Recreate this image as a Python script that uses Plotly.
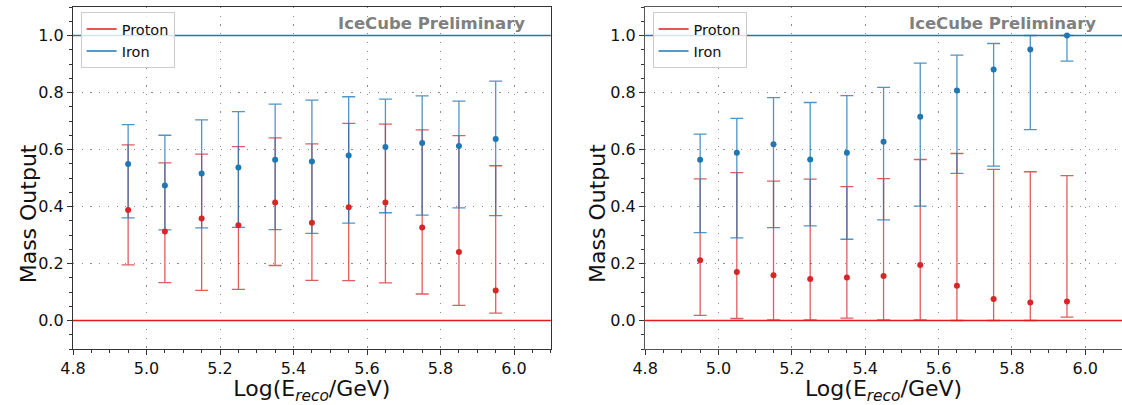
import plotly.graph_objects as go

# ---------------- data ----------------
x_bins = [4.95, 5.05, 5.15, 5.25, 5.35, 5.45, 5.55, 5.65, 5.75, 5.85, 5.95]

left_iron_mean = [0.549, 0.474, 0.516, 0.537, 0.564, 0.558, 0.579, 0.609, 0.623, 0.612, 0.637]
left_iron_hi = [0.687, 0.650, 0.704, 0.733, 0.759, 0.773, 0.785, 0.777, 0.788, 0.770, 0.840]
left_iron_lo = [0.360, 0.318, 0.325, 0.327, 0.319, 0.306, 0.342, 0.378, 0.370, 0.395, 0.368]

left_proton_mean = [0.388, 0.312, 0.358, 0.334, 0.414, 0.343, 0.397, 0.414, 0.326, 0.240, 0.105]
left_proton_hi = [0.616, 0.553, 0.584, 0.610, 0.641, 0.620, 0.692, 0.689, 0.669, 0.649, 0.543]
left_proton_lo = [0.195, 0.133, 0.106, 0.109, 0.193, 0.141, 0.140, 0.132, 0.093, 0.053, 0.026]

right_iron_mean = [0.564, 0.589, 0.618, 0.565, 0.589, 0.627, 0.715, 0.807, 0.881, 0.951, 1.000]
right_iron_hi = [0.654, 0.709, 0.782, 0.765, 0.789, 0.818, 0.903, 0.931, 0.972, 1.000, 1.000]
right_iron_lo = [0.308, 0.290, 0.326, 0.332, 0.285, 0.353, 0.401, 0.516, 0.542, 0.670, 0.910]

right_proton_mean = [0.211, 0.170, 0.159, 0.146, 0.151, 0.156, 0.195, 0.122, 0.075, 0.063, 0.067]
right_proton_hi = [0.497, 0.519, 0.489, 0.496, 0.470, 0.498, 0.565, 0.586, 0.530, 0.522, 0.508]
right_proton_lo = [0.018, 0.007, 0.002, 0.002, 0.008, 0.002, 0.002, 0.000, 0.000, 0.000, 0.012]

ref_levels = [0.0, 1.0]          # proton / iron reference lines
series_names = ["Proton", "Iron"]
x_ticks = [4.8, 5.0, 5.2, 5.4, 5.6, 5.8, 6.0]
y_ticks = [0.0, 0.2, 0.4, 0.6, 0.8, 1.0]
watermark = "IceCube Preliminary"
x_title = "Log(E<sub><i>reco</i></sub>/GeV)"
y_title = "Mass Output"

# ---------------- style ----------------
RED = "#d62728"
BLUE = "#1f77b4"
RED_LINE = "#e31a1c"
RED_ERR = "rgba(214,39,40,0.75)"
BLUE_ERR = "rgba(31,119,180,0.78)"
FONT = "DejaVu Sans"

fig = go.Figure()

panels = [
    ("x", "y", "legend", left_proton_mean, left_proton_hi, left_proton_lo,
     left_iron_mean, left_iron_hi, left_iron_lo),
    ("x2", "y2", "legend2", right_proton_mean, right_proton_hi, right_proton_lo,
     right_iron_mean, right_iron_hi, right_iron_lo),
]

for xa, ya, leg, pm, ph, pl, im, ih, il in panels:
    for mean, hi, lo, col in [(pm, ph, pl, RED_ERR), (im, ih, il, BLUE_ERR)]:
        fig.add_trace(go.Scatter(
            x=x_bins, y=mean, mode="markers", xaxis=xa, yaxis=ya,
            marker=dict(size=1, color="rgba(0,0,0,0)"), showlegend=False,
            hoverinfo="skip",
            error_y=dict(type="data", symmetric=False,
                         array=[h - m for h, m in zip(hi, mean)],
                         arrayminus=[m - l for m, l in zip(mean, lo)],
                         color=col, thickness=1.3, width=6.5),
        ))
    for mean, col in [(pm, RED), (im, BLUE)]:
        fig.add_trace(go.Scatter(
            x=x_bins, y=mean, mode="markers", xaxis=xa, yaxis=ya,
            marker=dict(size=6, color=col), showlegend=False,
        ))
    for name, col in zip(series_names, [RED_LINE, BLUE]):
        fig.add_trace(go.Scatter(
            x=[None], y=[None], mode="lines", xaxis=xa, yaxis=ya,
            line=dict(color=col, width=1.5), name=name, legend=leg,
            showlegend=True,
        ))

shapes = []
for xa, ya in [("x", "y"), ("x2", "y2")]:
    for lvl, col in zip(ref_levels, [RED_LINE, BLUE]):
        shapes.append(dict(type="line", xref=f"{xa} domain", yref=ya,
                           x0=0, x1=1, y0=lvl, y1=lvl,
                           line=dict(color=col, width=1.5), layer="above"))

annotations = []
for xa, ya in [("x", "y"), ("x2", "y2")]:
    annotations.append(dict(text=f"<b>{watermark}</b>", xref=xa, yref=ya,
                            x=6.035, y=1.0415, xanchor="right", yanchor="middle",
                            showarrow=False,
                            font=dict(family=FONT, size=16.5, color="#808080")))
for px in [-0.0425, 0.5005]:
    annotations.append(dict(text=y_title, xref="paper", yref="paper",
                            x=px, y=0.395, xanchor="center", yanchor="middle",
                            textangle=-90, showarrow=False,
                            font=dict(family=FONT, size=22, color="#111")))

axis_common = dict(
    showline=True, mirror=True, linewidth=1.3,
    ticks="outside", ticklen=5, tickwidth=1.2, tickcolor="#333",
    showgrid=True, gridcolor="#8a8a8a", gridwidth=1, griddash="1.2px,7.5px",
    zeroline=False,
    tickfont=dict(family=FONT, size=16, color="#111"),
    minor=dict(ticks="outside", ticklen=3, tickwidth=1, tickcolor="#333",
               dtick=0.05, showgrid=False),
)

xaxis_common = dict(axis_common, range=[4.8, 6.1], tickvals=x_ticks,
                    tickformat=".1f",
                    title=dict(text=x_title,
                               font=dict(family=FONT, size=22, color="#111"),
                               standoff=4))
yaxis_common = dict(axis_common, range=[-0.1, 1.1], tickvals=y_ticks,
                    tickformat=".1f")

legend_common = dict(
    xanchor="left", yanchor="top",
    bgcolor="rgba(255,255,255,0.8)", bordercolor="#cccccc", borderwidth=1,
    font=dict(family=FONT, size=14.5, color="#111"),
    tracegroupgap=0, itemwidth=30,
)

fig.update_layout(
    width=1122, height=405,
    margin=dict(l=73, r=0, t=7, b=56),
    paper_bgcolor="white", plot_bgcolor="white",
    font=dict(family=FONT),
    xaxis=dict(xaxis_common, domain=[0, 0.4555], anchor="y", linecolor="#333"),
    yaxis=dict(yaxis_common, domain=[0, 1], anchor="x", linecolor="#333"),
    xaxis2=dict(xaxis_common, domain=[0.5454, 1], anchor="y2", linecolor="#555"),
    yaxis2=dict(yaxis_common, domain=[0, 1], anchor="x2", linecolor="#555"),
    legend=dict(legend_common, x=0.0073, y=0.985),
    legend2=dict(legend_common, x=0.5525, y=0.985),
    shapes=shapes,
    annotations=annotations,
    showlegend=True,
)

fig.write_html("out.html",
               config={"displayModeBar": False},
               post_script="document.body.style.margin='0';document.body.style.padding='0';")
